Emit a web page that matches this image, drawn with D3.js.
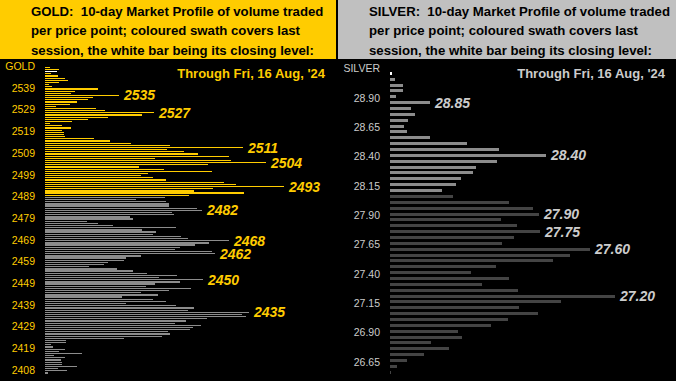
<!DOCTYPE html>
<html>
<head>
<meta charset="utf-8">
<script src="https://cdn.jsdelivr.net/npm/d3@7"></script>
<style>
  body { margin: 0; background: #000; }
  svg { display: block; font-family: "Liberation Sans", Arial, sans-serif; }
</style>
</head>
<body>
<div id="chart"></div>
<script>
// GOLD: [price, volume] from top of profile down
const goldProfile = [
  [2548, 5], [2547, 14], [2546, 12], [2545, 6], [2544, 13], [2543, 20], [2542, 23], [2541, 14], [2540, 4], [2539, 7],
  [2538, 53], [2537, 30], [2536, 26], [2535, 74], [2534, 48], [2533, 43], [2532, 32], [2531, 25], [2530, 11], [2529, 51],
  [2528, 60], [2527, 109], [2526, 97], [2525, 63], [2524, 43], [2523, 27], [2522, 5], [2521, 17], [2520, 26], [2519, 17],
  [2518, 19], [2517, 19], [2516, 20], [2515, 49], [2514, 65], [2513, 86], [2512, 125], [2511, 198], [2510, 122], [2509, 139],
  [2508, 153], [2507, 184], [2506, 110], [2505, 186], [2504, 221], [2503, 163], [2502, 94], [2501, 119], [2500, 167], [2499, 103],
  [2498, 96], [2497, 108], [2496, 121], [2495, 179], [2494, 191], [2493, 239], [2492, 168], [2491, 149], [2490, 199], [2489, 144],
  [2488, 120], [2487, 91], [2486, 121], [2485, 124], [2484, 124], [2483, 152], [2482, 157], [2481, 127], [2480, 129], [2479, 85],
  [2478, 88], [2477, 42], [2476, 53], [2475, 68], [2474, 131], [2473, 97], [2472, 111], [2471, 108], [2470, 136], [2469, 143],
  [2468, 184], [2467, 164], [2466, 150], [2465, 135], [2464, 130], [2463, 167], [2462, 170], [2461, 96], [2460, 81], [2459, 79],
  [2458, 63], [2457, 59], [2456, 44], [2455, 72], [2454, 88], [2453, 102], [2452, 132], [2451, 114], [2450, 158], [2449, 135],
  [2448, 110], [2447, 101], [2446, 146], [2445, 124], [2444, 96], [2443, 113], [2442, 77], [2441, 108], [2440, 121], [2439, 81],
  [2438, 131], [2437, 149], [2436, 143], [2435, 204], [2434, 197], [2433, 201], [2432, 162], [2431, 141], [2430, 130], [2429, 156],
  [2428, 148], [2427, 145], [2426, 123], [2425, 125], [2424, 117], [2423, 79], [2422, 21], [2421, 21], [2420, 6], [2419, 8],
  [2418, 20], [2417, 14], [2416, 37], [2415, 9], [2414, 20], [2413, 16], [2412, 17], [2411, 17], [2410, 32], [2409, 13],
  [2408, 22], [2407, 3]
];
const goldSession = [2489, 2548];   // last session's range
const goldClose = 2546;
const goldCallouts = [2535, 2527, 2511, 2504, 2493, 2482, 2468, 2462, 2450, 2435];
const goldTicks = [2549, 2539, 2529, 2519, 2509, 2499, 2489, 2479, 2469, 2459, 2449, 2439, 2429, 2419, 2409];
const goldTickLabels = ["GOLD", "2539", "2529", "2519", "2509", "2499", "2489", "2479", "2469", "2459", "2449", "2439", "2429", "2419", "2408"];

// SILVER
const silverProfile = [
  [29.10, 2], [29.05, 5], [29.00, 13], [28.95, 13], [28.90, 6], [28.85, 40], [28.80, 21], [28.75, 25], [28.70, 18], [28.65, 14],
  [28.60, 17], [28.55, 40], [28.50, 77], [28.45, 109], [28.40, 156], [28.35, 107], [28.30, 86], [28.25, 83], [28.20, 71], [28.15, 66],
  [28.10, 52], [28.05, 63], [28.00, 119], [27.95, 143], [27.90, 149], [27.85, 111], [27.80, 127], [27.75, 150], [27.70, 124], [27.65, 112],
  [27.60, 200], [27.55, 180], [27.50, 163], [27.45, 106], [27.40, 81], [27.35, 119], [27.30, 92], [27.25, 128], [27.20, 225], [27.15, 171],
  [27.10, 129], [27.05, 148], [27.00, 118], [26.95, 101], [26.90, 68], [26.85, 72], [26.80, 41], [26.75, 59], [26.70, 34], [26.65, 17],
  [26.60, 7], [26.55, 1]
];
const silverSession = [28.10, 29.10];
const silverClose = 29.10;
const silverCallouts = [28.85, 28.40, 27.90, 27.75, 27.60, 27.20];
const silverTicks = [29.15, 28.90, 28.65, 28.40, 28.15, 27.90, 27.65, 27.40, 27.15, 26.90, 26.65];
const silverTickLabels = ["SILVER", "28.90", "28.65", "28.40", "28.15", "27.90", "27.65", "27.40", "27.15", "26.90", "26.65"];

const W = 676, H = 381, headH = 59;

const svg = d3.select("#chart").append("svg")
    .attr("width", W)
    .attr("height", H);

svg.append("rect").attr("width", W).attr("height", H).attr("fill", "#000");

function drawPanel(cfg) {
    let g = svg.append("g");

    // header
    g.append("rect")
        .attr("x", cfg.x0).attr("y", 0)
        .attr("width", cfg.x1 - cfg.x0).attr("height", headH)
        .attr("fill", cfg.headFill);
    cfg.title.forEach((line, i) => {
        g.append("text")
            .attr("x", cfg.x0 + 31)
            .attr("y", 15.5 + i * 19.5)
            .attr("font-size", "13.2px")
            .attr("font-weight", "bold")
            .attr("fill", "#000")
            .attr("xml:space", "preserve")
            .text(line);
    });

    g.append("text")
        .attr("x", cfg.dateRight)
        .attr("y", 78)
        .attr("text-anchor", "end")
        .attr("font-size", "13px")
        .attr("font-weight", "bold")
        .attr("fill", cfg.textFill)
        .text("Through Fri, 16 Aug, '24");

    let y = d3.scaleLinear().domain(cfg.yDomain).range(cfg.yRange);
    let x = d3.scaleLinear().domain([0, cfg.xMax]).range([cfg.barX, cfg.barX + cfg.xMax]);

    // price axis labels
    g.selectAll(".tick")
        .data(cfg.ticks)
        .enter().append("text")
        .attr("x", cfg.barX - cfg.tickGap)
        .attr("y", d => y(d) + 5)
        .attr("text-anchor", "end")
        .attr("font-size", "10.5px")
        .attr("fill", cfg.textFill)
        .text((d, i) => cfg.tickLabels[i]);

    // profile bars
    g.selectAll(".bar")
        .data(cfg.profile)
        .enter().append("rect")
        .attr("x", x(0))
        .attr("y", d => y(d[0]) - cfg.barH / 2)
        .attr("width", d => x(d[1]) - x(0))
        .attr("height", cfg.barH)
        .attr("shape-rendering", "crispEdges")
        .attr("fill", d => {
            if (Math.abs(d[0] - cfg.close) < 1e-6) return "#fff";
            if (d[0] >= cfg.session[0] - 1e-6 && d[0] <= cfg.session[1] + 1e-6) return cfg.sessionFill;
            return cfg.otherFill;
        });

    // callouts at volume peaks
    let byPrice = new Map(cfg.profile.map(d => [d[0].toFixed(2), d[1]]));
    g.selectAll(".callout")
        .data(cfg.callouts)
        .enter().append("text")
        .attr("x", d => x(byPrice.get(d.toFixed(2))) + 5)
        .attr("y", d => y(d) + 5)
        .attr("font-size", "14px")
        .attr("font-weight", "bold")
        .attr("font-style", "italic")
        .attr("fill", cfg.textFill)
        .text(d => cfg.fmt(d));
}

drawPanel({
    x0: 0, x1: 336,
    headFill: "#ffcc00",
    textFill: "#ffcc00",
    title: ["GOLD:  10-day Market Profile of volume traded",
            "per price point; coloured swath covers last",
            "session, the white bar being its closing level:"],
    dateRight: 325,
    yDomain: [2548, 2407], yRange: [67.3, 373],
    xMax: 240, barX: 45, tickGap: 10, barH: 1.25,
    ticks: goldTicks, tickLabels: goldTickLabels,
    profile: goldProfile, session: goldSession, close: goldClose,
    sessionFill: "#ffcc00", otherFill: "#8c8c8c",
    callouts: goldCallouts, fmt: d3.format("d")
});

drawPanel({
    x0: 338, x1: 676,
    headFill: "#c0c0c0",
    textFill: "#cccccc",
    title: ["SILVER:  10-day Market Profile of volume traded",
            "per price point; coloured swath covers last",
            "session, the white bar being its closing level:"],
    dateRight: 665,
    yDomain: [29.10, 26.55], yRange: [73.3, 372.3],
    xMax: 230, barX: 390, tickGap: 10, barH: 3,
    ticks: silverTicks, tickLabels: silverTickLabels,
    profile: silverProfile, session: silverSession, close: silverClose,
    sessionFill: "#8c8c8c", otherFill: "#444444",
    callouts: silverCallouts, fmt: d3.format(".2f")
});
</script>
</body>
</html>
